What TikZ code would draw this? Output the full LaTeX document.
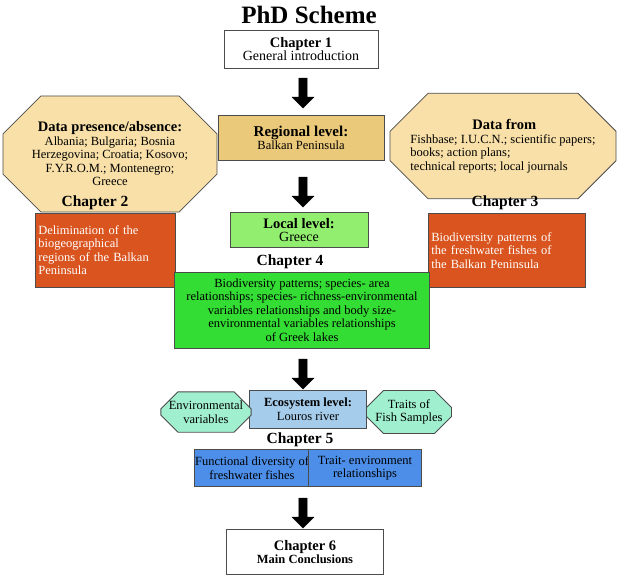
\documentclass[tikz,border=0pt]{standalone}
\usepackage{fontspec}
\setmainfont{Liberation Serif}
\usetikzlibrary{positioning}
\usetikzlibrary{shapes.misc,shapes.arrows}
\tikzset{
    box/.style={draw=black!70, line width=0.8pt, align=center, inner sep=1pt, font=\fontsize{12.5}{13.5}\selectfont},
    oct/.style={box, chamfered rectangle, chamfered rectangle xsep=12pt, chamfered rectangle ysep=26pt, inner sep=0pt},
    chap/.style={font=\fontsize{15.5}{17}\selectfont\bfseries},
    down/.style={single arrow, fill=black, draw=black, rotate=270, minimum height=30pt, minimum width=22pt, single arrow head extend=2pt, inner sep=1pt},
}
\definecolor{tan}{HTML}{EBC97A}
\definecolor{paletan}{HTML}{F8E0A8}
\definecolor{rust}{HTML}{D9541E}
\definecolor{litegreen}{HTML}{92EE6E}
\definecolor{midgreen}{HTML}{33DD33}
\definecolor{liteblue}{HTML}{A6CCEB}
\definecolor{mint}{HTML}{A0F0CF}
\definecolor{midblue}{HTML}{4C8EE8}
\begin{document}
\begin{tikzpicture}[x=1pt, y=-1pt]
    \useasboundingbox (0, 0) rectangle (618, 581);
    % title
    \node[font=\fontsize{25}{27}\selectfont\bfseries] (title) at (309, 15) {PhD Scheme};
    \node[box, fill=white, minimum width=154pt, minimum height=38pt] (ch1) at (301, 49)
        {{\fontsize{14.5}{16}\selectfont\bfseries Chapter 1}\\ \fontsize{14}{15}\selectfont General introduction};
    \node[down] (a1) at (303, 91) {};
    % regional level
    \node[box, fill=tan, minimum width=166pt, minimum height=45pt] (reg) at (301, 138)
        {{\fontsize{15}{16}\selectfont\bfseries Regional level:}\\ Balkan Peninsula};
    \node[oct, fill=paletan, minimum width=214pt, minimum height=88pt] (pres) at (110, 154)
        {{\fontsize{14.5}{15}\selectfont\bfseries Data presence/absence:}\\ Albania; Bulgaria; Bosnia\\ Herzegovina; Croatia; Kosovo;\\ F.Y.R.O.M.; Montenegro;\\ Greece};
    \node[oct, fill=paletan, minimum width=226pt, minimum height=74pt, align=left] (from) at (503, 146)
        {\hspace*{62pt}{\fontsize{14.5}{15}\selectfont\bfseries Data from}\\ Fishbase; I.U.C.N.; scientific papers;\\ books; action plans;\\ technical reports; local journals};
    \node[down] (a2) at (303, 190) {};
    % chapters 2 and 3
    \node[chap] (lab2) at (95, 203) {Chapter 2};
    \node[box, fill=rust, text=white, minimum width=140pt, minimum height=74pt, align=left, anchor=north west, text width=134pt, inner sep=3pt] (ch2) at (35, 213)
        {Delimination of the\\ biogeographical\\ regions of the Balkan\\ Peninsula};
    \node[chap] (lab3) at (505, 203) {Chapter 3};
    \node[box, fill=rust, text=white, minimum width=157pt, minimum height=74pt, align=left, anchor=north west, text width=151pt, inner sep=3pt] (ch3) at (428, 213)
        {Biodiversity patterns of\\ the freshwater fishes of\\ the Balkan Peninsula\\[14pt]};
    % local level
    \node[box, fill=litegreen, minimum width=138pt, minimum height=35pt] (loc) at (299, 230)
        {{\fontsize{14.5}{15}\selectfont\bfseries Local level:}\\ {\fontsize{14}{15}\selectfont Greece}};
    \node[chap] (lab4) at (290, 262) {Chapter 4};
    \node[box, fill=midgreen, minimum width=255pt, minimum height=76pt, inner sep=0pt] (ch4) at (302, 310)
        {Biodiversity patterns; species- area\\ relationships; species- richness-environmental\\ variables relationships and body size-\\ environmental variables relationships\\ of Greek lakes};
    \node[down] (a3) at (303, 372) {};
    % ecosystem level
    \node[box, fill=liteblue, minimum width=117pt, minimum height=38pt] (eco) at (308, 409)
        {{\bfseries Ecosystem level:}\\ Louros river};
    \node[oct, fill=mint, minimum width=87pt, minimum height=32pt, chamfered rectangle xsep=8pt, chamfered rectangle ysep=9pt] (env) at (206, 412)
        {Environmental\\ variables};
    \node[oct, fill=mint, minimum width=85pt, minimum height=32pt, chamfered rectangle xsep=8pt, chamfered rectangle ysep=9pt] (trait) at (409, 412)
        {Traits of\\ Fish Samples};
    \node[chap] (lab5) at (300, 440) {Chapter 5};
    \node[box, fill=midblue, minimum width=104pt, minimum height=37pt] (ch5a) at (252, 468)
        {Functional diversity of\\ freshwater fishes};
    \node[box, fill=midblue, minimum width=113pt, minimum height=37pt] (ch5b) at (365, 468)
        {Trait- environment\\ relationships};
    \node[down] (a4) at (303, 511) {};
    \node[box, fill=white, minimum width=157pt, minimum height=45pt] (ch6) at (305, 552)
        {{\fontsize{14.5}{16}\selectfont\bfseries Chapter 6}\\ \bfseries Main Conclusions};
\end{tikzpicture}
\end{document}
